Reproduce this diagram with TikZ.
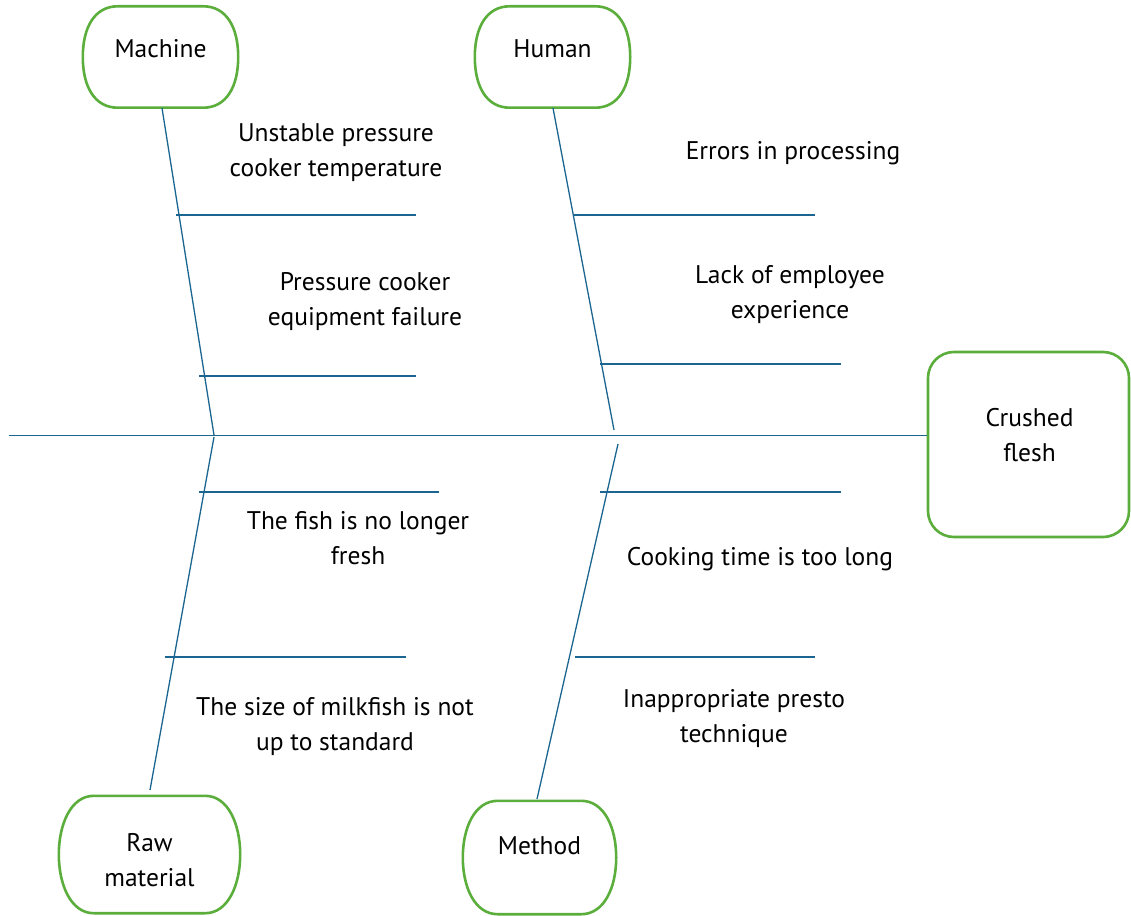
\documentclass[tikz,border=0pt]{standalone}
\usepackage{fontspec}
\setmainfont{PT Sans}
\definecolor{boxgreen}{HTML}{5BAE3C}
\definecolor{bonblue}{HTML}{1B6690}
\newcommand\catshape[1]{%
  \draw[catline] ([xshift=35]#1.north west) -- ([xshift=-35]#1.north east)
   .. controls ([xshift=-12]#1.north east) and ([yshift=30]#1.east) .. (#1.east)
   .. controls ([yshift=-30]#1.east) and ([xshift=-12]#1.south east) .. ([xshift=-35]#1.south east)
   -- ([xshift=35]#1.south west)
   .. controls ([xshift=12]#1.south west) and ([yshift=-30]#1.west) .. (#1.west)
   .. controls ([yshift=30]#1.west) and ([xshift=12]#1.north west) .. cycle;}
\begin{document}
\begin{tikzpicture}[x=1pt,y=-1pt,
  catline/.style={draw=boxgreen,line width=2.6pt,line join=round},
  catbox/.style={draw=none,inner sep=0pt},
  bone/.style={draw=bonblue,line width=1.3pt},
  lbl/.style={align=center,inner sep=0pt,font=\fontsize{25.5}{35}\selectfont}]
\useasboundingbox (0,0) rectangle (1131,915);
% category boxes
\node[catbox,minimum width=155pt,minimum height=101pt] (mach) at (160.5,57) {};
\node[catbox,minimum width=155pt,minimum height=101pt] (hum) at (552.5,57) {};
\node[catbox,minimum width=181pt,minimum height=117pt] (raw) at (149.5,854.5) {};
\node[catbox,minimum width=153pt,minimum height=113pt] (meth) at (539.5,857.5) {};
\catshape{mach}
\catshape{hum}
\catshape{raw}
\catshape{meth}
\node[lbl] (machT) at (160.5,49) {Machine};
\node[lbl] (humT) at (552.5,49) {Human};
\node[lbl] (rawT) at (149.5,860) {Raw\\material};
\node[lbl] (methT) at (539.5,846) {Method};
% head
\node[draw=boxgreen,line width=2.6pt,rounded corners=26pt,minimum width=201pt,minimum height=185pt,inner sep=0pt] (head) at (1028.5,444.5) {};
\node[lbl] (headT) at (1029.5,435) {Crushed\\flesh};
% spine
\coordinate (tail) at (9,435.5);
\draw[bone] (tail) -- (head.west |- tail);
% bone coordinates
\coordinate (mt) at (162,108);
\coordinate (mb) at (214,435);
\coordinate (ht) at (553,108);
\coordinate (hb) at (614,430);
\coordinate (rt) at (214,437);
\coordinate (rb) at (150,790);
\coordinate (et) at (618,444);
\coordinate (eb) at (537,799);
\draw[bone] (mt) -- (mb);
\draw[bone] (ht) -- (hb);
\draw[bone] (rt) -- (rb);
\draw[bone] (et) -- (eb);
% sub-bones
\coordinate (m1a) at (176,215); \coordinate (m1b) at (416,215);
\coordinate (m2a) at (199,376); \coordinate (m2b) at (416,376);
\coordinate (h1a) at (574,215); \coordinate (h1b) at (815,215);
\coordinate (h2a) at (600,364); \coordinate (h2b) at (841,364);
\coordinate (r1a) at (199,492); \coordinate (r1b) at (439,492);
\coordinate (r2a) at (165,657); \coordinate (r2b) at (406,657);
\coordinate (e1a) at (600,492); \coordinate (e1b) at (841,492);
\coordinate (e2a) at (575,657); \coordinate (e2b) at (815,657);
\foreach \s in {m1,m2,h1,h2,r1,r2,e1,e2} {\draw[bone] (\s a) -- (\s b);}
% labels
\node[lbl] (t1) at (336,152.5) {Unstable pressure\\cooker temperature};
\node[lbl] (t2) at (365,301.5) {Pressure cooker\\equipment failure};
\node[lbl] (t3) at (793,153) {Errors in processing};
\node[lbl] (t4) at (790,294.5) {Lack of employee\\experience};
\node[lbl] (t5) at (358,538) {The fish is no longer\\fresh};
\node[lbl] (t6) at (335,726.5) {The size of milkfish is not\\up to standard};
\node[lbl] (t7) at (760,559) {Cooking time is too long};
\node[lbl] (t8) at (734,718.5) {Inappropriate presto\\technique};
\end{tikzpicture}
\end{document}
